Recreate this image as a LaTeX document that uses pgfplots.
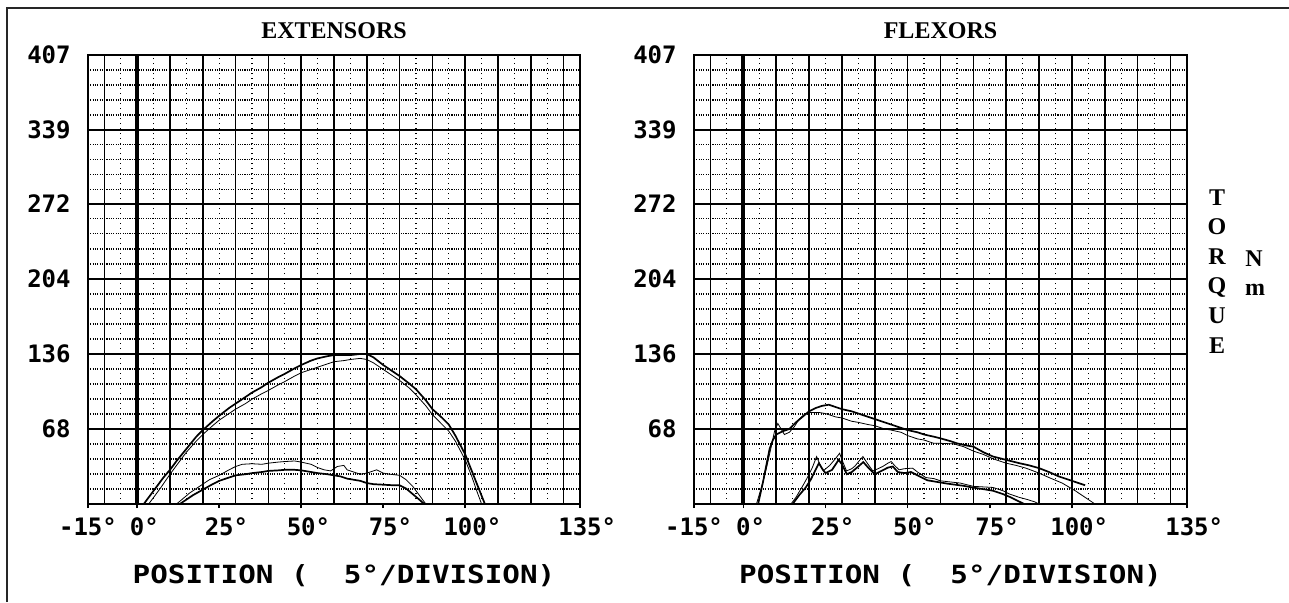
\documentclass[border=0pt]{standalone}
\usepackage{fontspec}
\setmainfont{Liberation Serif}
\newfontfamily\dmono{DejaVu Sans Mono}
\usepackage{graphicx}
\usepackage{pgfplots}
\pgfplotsset{compat=1.18}

\pgfplotsset{
 panel/.style={
  scale only axis, width=246pt, height=224.5pt,
  anchor=south west,
  xmin=-15, xmax=135, ymin=0, ymax=407,
  axis line style={line width=0.8pt},
  xtick={-15,0,25,50,75,100,135},
  xticklabels={\llap{-}15\rlap{°},0\rlap{°},25\rlap{°},50\rlap{°},75\rlap{°},100\rlap{°},135\rlap{°}},
  ytick={68,136,204,272,339,407},
  yticklabels={68,136,204,272,339,407},
  ymajorgrids=true,
  major grid style={black, line width=0.75pt},
  extra x ticks={-10,0,10,...,130},
  extra x tick labels={},
  extra x tick style={xmajorgrids=true, major tick length=0pt},
  minor xtick={-5,5,...,125},
  minor ytick={13.6,27.2,40.8,54.4,81.6,95.2,108.8,122.4,149.6,163.2,176.8,190.4,217.6,231.2,244.8,258.4,285.4,298.8,312.2,325.6,352.6,366.2,379.8,393.4},
  xminorgrids=true, yminorgrids=true,
  minor x grid style={black, line width=0.6pt, dash pattern=on 0.6pt off 1.9pt},
  minor y grid style={black, line width=0.55pt, dash pattern=on 0.55pt off 0.6pt},
  minor tick length=0pt,
  tick align=outside,
  major tick length=2pt,
  xtick pos=left,
  ytick style={draw=none},
  xtick style={line width=0.8pt, black},
  tick label style={font=\dmono\bfseries\fontsize{12pt}{12pt}\selectfont},
  xticklabel style={anchor=base, inner sep=0pt, yshift=-13.9pt},
  yticklabel style={anchor=east, inner sep=0pt, xshift=-6.5pt},
  title style={font=\bfseries\fontsize{12pt}{12pt}\selectfont, at={(0.5,1)}, anchor=base, yshift=2.5pt, inner sep=0pt},
  xlabel style={font=\dmono\bfseries\fontsize{12.5pt}{12.5pt}\selectfont, at={(0.5,0)}, anchor=base, yshift=-39.5pt, xshift=5pt, inner sep=0pt},
  xlabel={\scalebox{1.17}[1]{POSITION (\ \ 5°/DIVISION)}},
  cycle list={{black, line width=0.85pt, no markers}},
 }
}

\begin{document}
\begin{tikzpicture}
\path[use as bounding box] (0,0) rectangle (644.5pt,301pt);
\draw[line width=0.8pt, black!85] (3.5pt,0) -- (3.5pt,297pt) -- (644.5pt,297pt);

% ---------------- EXTENSORS ----------------
\begin{axis}[panel, at={(44pt,49pt)}, title={EXTENSORS}]
\addplot[black, line width=2pt] coordinates {(0,0) (0,407)};
% outer arc
\addplot table {
2 0
4 8
6 16
8 24
10 31
12 39
15 50
18 61
20 67
23 75
25 80
28 87
30 91
33 97
35 101
38 106
40 110
43 115
45 118
48 123
50 126
53 130
55 132
58 134
60 135
63 135
65 135
68 136
70 136
72 133
75 126
78 120
80 116
83 109
85 104
88 94
90 86
93 78
95 72
97 62
100 45
102 30
104 15
106 0
};
% inner arc
\addplot table {
3.5 0
5 6
7 14
10 27
12 35
15 47
18 57
20 63
23 71
25 76
28 82
30 86
33 91
35 95
38 100
40 103
43 108
45 111
48 116
50 119
53 122
55 124
58 127
60 129
63 130
65 131
68 132
70 131
72 128
75 122
78 116
80 112
83 105
85 99
88 89
90 81
93 72
95 66
97 57
100 40
102 25
103.5 12
105 0
};
% lower pair
\addplot table {
12 0
14 5
16 10
18 14
20 18
22 22
25 26
28 31
30 34
32 36
35 36.5
38 36
40 37
43 38
45 38.5
48 39
50 38
53 36
55 33
57 31
59 30
61 34
63 35
64 31
66 29
68 27
70 28
72 30
73 31
75 28
77 27
80 26
82 22
84 16
86 8
88 0
};
\addplot table {
13 0
15 4
17 8
20 13
23 18
25 21
28 24
30 26
33 27
35 28
38 29
40 30
43 30.5
45 31
48 31
50 30.5
53 29
55 28
58 27
60 26
62 25
64 23
66 22
68 21
70 19
72 18
75 17.5
78 17
80 17
82 14
84 9
86 4
87.5 0
};
\end{axis}

% ---------------- FLEXORS ----------------
\begin{axis}[panel, at={(347pt,49pt)}, width=246.5pt, title={FLEXORS}]
\addplot[black, line width=2pt] coordinates {(0,0) (0,407)};
\addplot table {
4.5 0
6 20
7 35
8 50
9 58
10 63
12 66
14 68
16 74
18 79
20 84
22 87
24 89
26 90
28 88
30 86
33 84
35 82
38 79
40 77
43 74
45 72
48 69
50 67
53 65
55 63
58 61
60 59.5
63 57
65 55
68 53
70 52
73 47
76 43
80 40
84 37
87 35
90 32.5
93 29
96 25
100 21
104 17
};
\addplot table {
4 0
5.5 15
7 32
8.5 52
9.5 66
10.5 73
11.5 68
12.5 63
14 65
15.5 70
17 77
18.5 81
20 83
23 83
25 82
28 79
30 78
33 75
35 74
38 72
40 71
43 68
45 67
48 65
50 62
53 59
55 58
58 55
60 55
64 54.5
67 52
70 48
73 45
76 41
80 37
83 35
86 32.5
90 28
93 24
97 19
101 12
104 6
107 0
};
\addplot table {
14.5 0
16 6
18 16
19.5 24
21 33
22.3 43
23.3 36
24.3 30
26.3 35
28 41
29.3 46
30.3 38
31.4 30
33 32
34 34.5
35.5 40
36.4 43
37.5 38
39.4 30
41 32
42.4 34
44 37
45 38.5
46 35
47.4 31
49 32
51.5 32.5
53 29
55.5 24
58 23
60 21
63 20
66 19
70 16
73 15.5
76 15
79 12
81 9
84 6
86.5 4
88.6 2
90 0
};
\addplot table {
15 0
17 8
19 15
20.5 22
22 31
23 37
24 32
25 28
27 31
29 40
30 36
31.5 27
33 29
35 34
36.5 38
38 33
40 27
42 30
44 33
45.5 34
47 29
49 28
51 29
53 26
56 21.5
59 20
62 18.5
64 17.7
67 16.5
70 14.8
73 13.5
76 12
79 9
81.4 6
83.4 3
85.5 0
};
\end{axis}

% TORQUE  N m
\begin{scope}[every node/.style={inner sep=0pt, anchor=base, font=\bfseries\fontsize{12pt}{12pt}\selectfont}]
\node at (608.5pt,198.5pt) {T};
\node at (608.5pt,183.7pt) {O};
\node at (608.5pt,168.9pt) {R};
\node at (608.5pt,154.1pt) {Q};
\node at (608.5pt,139.3pt) {U};
\node at (608.5pt,124.5pt) {E};
\node at (627pt,168pt) {N};
\node at (627.5pt,153.5pt) {m};
\end{scope}
\end{tikzpicture}
\end{document}
